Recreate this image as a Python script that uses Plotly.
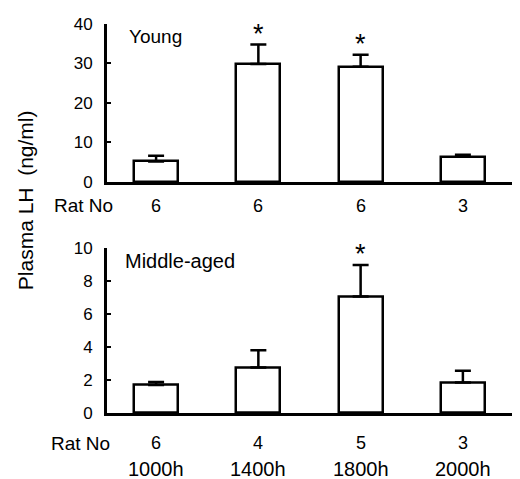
import plotly.graph_objects as go
from plotly.subplots import make_subplots

times = ["1000h", "1400h", "1800h", "2000h"]
young_mean = [5.2, 29.9, 29.2, 6.4]
young_sem = [1.4, 4.9, 3.0, 0.5]
young_n = [6, 6, 6, 3]
young_sig = [False, True, True, False]
mid_mean = [1.7, 2.75, 7.05, 1.85]
mid_sem = [0.18, 1.05, 1.9, 0.7]
mid_n = [6, 4, 5, 3]
mid_sig = [False, False, True, False]

xpos = list(range(len(times)))
FONT = "Liberation Sans, Arial, sans-serif"

fig = make_subplots(rows=2, cols=1, vertical_spacing=0.0)

def add_panel(row, mean, sem):
    fig.add_trace(go.Bar(
        x=xpos, y=mean, width=0.43,
        marker=dict(color="white", line=dict(color="black", width=2.5)),
        error_y=dict(type="data", symmetric=False, array=sem,
                     arrayminus=[0] * len(sem), color="black",
                     thickness=2.5, width=8),
        showlegend=False,
    ), row=row, col=1)

add_panel(1, young_mean, young_sem)
add_panel(2, mid_mean, mid_sem)

axis_common = dict(showline=True, linecolor="black", linewidth=2.8,
                   showgrid=False, zeroline=False)
fig.update_xaxes(range=[-0.48, 3.49], showticklabels=False, ticks="",
                 **axis_common)
fig.update_layout(
    xaxis=dict(domain=[0, 1]),
    yaxis=dict(domain=[0.594, 1.0], range=[0, 40], tickvals=[0, 10, 20, 30, 40],
               ticks="inside", ticklen=4, tickwidth=2, tickcolor="black",
               ticklabelstandoff=8, tickfont=dict(size=17), **axis_common),
    xaxis2=dict(domain=[0, 1]),
    yaxis2=dict(domain=[0.0, 0.425], range=[0, 10], tickvals=[0, 2, 4, 6, 8, 10],
                ticks="inside", ticklen=4, tickwidth=2, tickcolor="black",
                ticklabelstandoff=8, tickfont=dict(size=17), **axis_common),
)

ann = []
# Rat numbers
for xs, yref, n_list, shift in [("x", "y domain", young_n, -24), ("x2", "y2 domain", mid_n, -30)]:
    for x, n in zip(xpos, n_list):
        ann.append(dict(x=x, y=0, xref=xs, yref=yref, text=str(n), showarrow=False,
                        yshift=shift, yanchor="middle", font=dict(size=18)))
ann.append(dict(x=0.02, y=0, xref="paper", yref="y domain", text="Rat No", showarrow=False,
                xanchor="right", yanchor="middle", yshift=-24, font=dict(size=19)))
ann.append(dict(x=0.012, y=0, xref="paper", yref="y2 domain", text="Rat No", showarrow=False,
                xanchor="right", yanchor="middle", yshift=-30, font=dict(size=19)))
# time labels
for x, t in zip(xpos, times):
    ann.append(dict(x=x, y=0, xref="x2", yref="y2 domain", text=t, showarrow=False,
                    yshift=-56, yanchor="middle", font=dict(size=20)))
# asterisks
for xs, ys, mean, sem, sig in [("x", "y", young_mean, young_sem, young_sig),
                               ("x2", "y2", mid_mean, mid_sem, mid_sig)]:
    for x, m, s, g in zip(xpos, mean, sem, sig):
        if g:
            ann.append(dict(x=x, y=m + s, xref=xs, yref=ys, text="*", showarrow=False,
                            yanchor="bottom", yshift=-6, font=dict(size=27)))
# panel titles
ann.append(dict(x=0.05, y=1.0, xref="paper", yref="y domain", text="Young", showarrow=False,
                xanchor="left", yanchor="top", font=dict(size=19)))
ann.append(dict(x=0.04, y=1.0, xref="paper", yref="y2 domain", text="Middle-aged", showarrow=False,
                xanchor="left", yanchor="top", font=dict(size=20)))
# y title
ann.append(dict(x=-0.202, y=0.547, xref="paper", yref="paper", text="Plasma LH  (ng/ml)",
                textangle=-90, showarrow=False, xanchor="center", yanchor="middle",
                font=dict(size=21)))

fig.update_layout(
    annotations=ann,
    width=512, height=471,
    margin=dict(l=99, r=7, t=10, b=66),
    paper_bgcolor="white", plot_bgcolor="white",
    font=dict(family=FONT, size=15, color="black"),
    bargap=0,
)
fig.write_html("out.html")
